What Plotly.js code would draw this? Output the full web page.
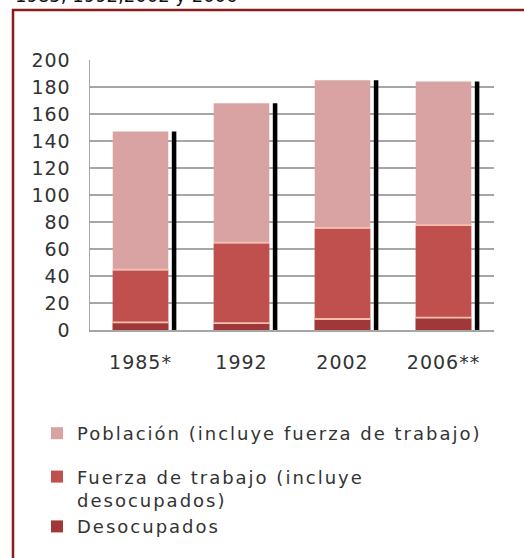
<!DOCTYPE html>
<html>
<head>
<meta charset="utf-8">
<script src="https://cdn.plot.ly/plotly-3.0.1.min.js"></script>
<style>
  html, body { margin: 0; padding: 0; background: #fff; overflow: hidden; }
  #chart { width: 524px; height: 558px; }
  #chart .xtick text, #chart .ytick text { letter-spacing: 1px; }
  #chart .legendtext { letter-spacing: 2px; }
  #chart .legend, #chart .legend .scrollbox { clip-path: none !important; }
</style>
</head>
<body>
<div id="chart"></div>
<script>
// ---- data ----
const years = ["1985*", "1992", "2002", "2006**"];
const poblacion = [147, 168, 185, 184];
const fuerzaTrabajo = [44, 64, 75, 77];
const desocupados = [5, 4.5, 7.5, 8.5];
const yTicks = [0, 20, 40, 60, 80, 100, 120, 140, 160, 180, 200];
const legendNames = [
  "Población (incluye fuerza de trabajo)",
  "Fuerza de trabajo (incluye<br>desocupados)",
  "Desocupados"
];
const subtitle = "1985, 1992,2002 y 2006";

// ---- styles ----
const FONT = "DejaVu Sans, Arial, sans-serif";
const colPob = "#d9a3a3";
const colFue = "#c0504d";
const colDes = "#a0383a";
const colSep = "#f4bfae";
const barW = 0.55;
const sepH = 1.3;

const traces = [
  { // black shadow
    type: "bar", x: years, y: poblacion, width: 0.045, offset: 0.31,
    marker: { color: "#000" }, showlegend: false, hoverinfo: "skip"
  },
  {
    type: "bar", name: legendNames[0], x: years, y: poblacion, width: barW,
    marker: { color: colPob }, legendgroup: "a"
  },
  {
    type: "bar", name: legendNames[1], x: years, y: fuerzaTrabajo, width: barW,
    marker: { color: colFue }, legendgroup: "b"
  },
  {
    type: "bar", name: legendNames[2], x: years, y: desocupados, width: barW,
    marker: { color: colDes }, legendgroup: "b"
  },
  { // separators
    type: "bar", x: years, y: years.map(() => sepH), base: fuerzaTrabajo, width: barW,
    marker: { color: colSep }, showlegend: false, hoverinfo: "skip"
  },
  {
    type: "bar", x: years, y: years.map(() => sepH), base: desocupados, width: barW,
    marker: { color: colSep }, showlegend: false, hoverinfo: "skip"
  }
];

const layout = {
  width: 524, height: 558,
  margin: { l: 90, r: 30, t: 60, b: 228 },
  paper_bgcolor: "#fff", plot_bgcolor: "#fff",
  barmode: "overlay",
  font: { family: FONT, color: "#333", size: 18 },
  xaxis: {
    type: "category",
    showgrid: false,
    showline: true, linecolor: "#a6a6a6", linewidth: 2,
    ticks: "", ticklabelstandoff: 14, tickangle: 0,
    tickfont: { family: FONT, size: 19, color: "#333" },
    fixedrange: true
  },
  yaxis: {
    range: [0, 200],
    tickvals: yTicks,
    showgrid: true, gridcolor: "#a6a6a6", gridwidth: 1.5,
    showline: true, linecolor: "#a6a6a6", linewidth: 1.5,
    zeroline: false,
    ticks: "", ticklabelstandoff: 14,
    tickfont: { family: FONT, size: 19, color: "#333" },
    fixedrange: true
  },
  showlegend: true,
  legend: {
    x: (37 - 90) / 404, xanchor: "left",
    y: (330 - 545) / 270, yanchor: "bottom",
    orientation: "v",
    traceorder: "grouped",
    tracegroupgap: 17,
    valign: "top",
    font: { family: FONT, size: 18, color: "#333" },
    bgcolor: "rgba(0,0,0,0)"
  },
  shapes: [{
    type: "rect", xref: "paper", yref: "paper",
    x0: (13 - 90) / 404, x1: 2, y0: -2, y1: (330 - 10) / 270,
    line: { color: "#8b1a1a", width: 2.5 }, fillcolor: "rgba(0,0,0,0)", layer: "below"
  }],
  annotations: [{
    xref: "paper", yref: "paper", x: (13 - 90) / 404, xanchor: "left",
    y: (330 - 8) / 270, yanchor: "bottom",
    text: subtitle, showarrow: false,
    font: { family: FONT, size: 18, color: "#111" }
  }]
};

Plotly.newPlot("chart", traces, layout, { displayModeBar: false, staticPlot: true });
</script>
</body>
</html>
